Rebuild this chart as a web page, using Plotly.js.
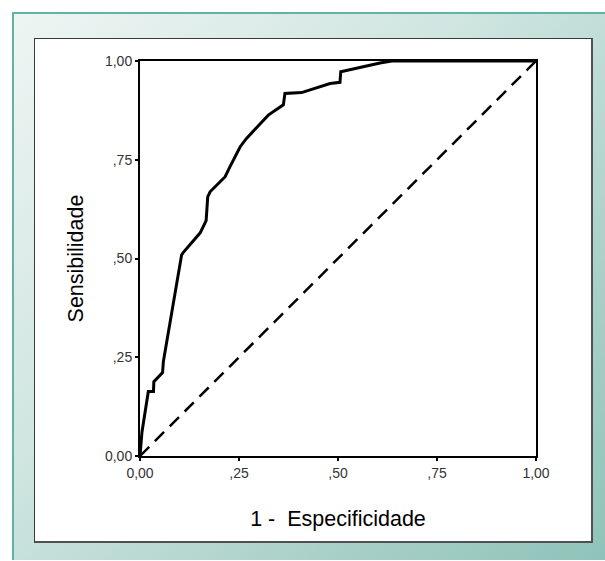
<!DOCTYPE html>
<html>
<head>
<meta charset="utf-8">
<script src="https://cdn.plot.ly/plotly-3.0.1.min.js"></script>
<style>
  html, body { margin: 0; padding: 0; background: #ffffff; }
  #wrap { position: relative; width: 605px; height: 561px; overflow: hidden; }
  #frame { position: absolute; left: 12px; top: 12px; width: 593px; height: 548px;
           box-sizing: border-box; border-left: 2px solid #62b3a4; border-top: 2px solid #62b3a4;
           background: linear-gradient(135deg, #eef5f3 0%, #cfe5e0 40%, #a9d0c8 75%, #8fc3b9 100%); }
  #inner { position: absolute; left: 34px; top: 38px; width: 559px; height: 505px;
           box-sizing: border-box; background: #ffffff; border: 1px solid #3a3a3a;
           border-bottom: 2px solid #505050; border-right: 2px solid #505050; }
  #chart { position: absolute; left: 0; top: 0; }
</style>
</head>
<body>
<div id="wrap">
  <div id="frame"></div>
  <div id="inner"></div>
  <div id="chart"></div>
</div>
<script>
// ROC curve values
const fpr = [0, 0.005, 0.021, 0.034, 0.035, 0.057, 0.059, 0.105, 0.109, 0.152, 0.167, 0.171, 0.177, 0.215, 0.227, 0.253, 0.269, 0.324, 0.362, 0.366, 0.408, 0.480, 0.505, 0.507, 0.606, 0.636, 1];
const tpr = [0, 0.061, 0.163, 0.163, 0.188, 0.211, 0.239, 0.509, 0.515, 0.565, 0.596, 0.656, 0.669, 0.707, 0.732, 0.783, 0.804, 0.863, 0.889, 0.918, 0.920, 0.943, 0.946, 0.973, 0.995, 1.0, 1];
// Reference (chance) line
const refX = [0, 1];
const refY = [0, 1];
// Ticks
const tickVals = [0, 0.25, 0.5, 0.75, 1];
const tickText = ['0,00', ',25', ',50', ',75', '1,00'];

const tickFont = { family: 'Liberation Sans, Arial, sans-serif', size: 14, color: '#333333' };
const titleFont = { family: 'Liberation Sans, Arial, sans-serif', size: 21.5, color: '#000000' };

const traces = [
  { x: refX, y: refY, mode: 'lines', type: 'scatter', cliponaxis: false, hoverinfo: 'skip',
    line: { color: '#000000', width: 2.5, dash: '13px,8px' } },
  { x: fpr, y: tpr, mode: 'lines', type: 'scatter', cliponaxis: false, hoverinfo: 'skip',
    line: { color: '#000000', width: 3 } }
];

const axisCommon = {
  range: [0, 1], tickvals: tickVals, ticktext: tickText, showgrid: false, zeroline: false,
  showline: true, mirror: true, linecolor: '#000000', linewidth: 2,
  ticks: 'outside', ticklen: 3, tickwidth: 2, tickcolor: '#000000', tickfont: tickFont, fixedrange: true
};

const layout = {
  width: 605, height: 561,
  margin: { l: 140, r: 69, t: 61, b: 105 },
  paper_bgcolor: 'rgba(0,0,0,0)', plot_bgcolor: '#ffffff',
  showlegend: false,
  xaxis: Object.assign({}, axisCommon, {
    title: { text: '1 -&nbsp; Especificidade', font: titleFont, standoff: 31 }
  }),
  yaxis: Object.assign({}, axisCommon, {
    title: { text: 'Sensibilidade', font: titleFont, standoff: 15 }
  })
};

Plotly.newPlot('chart', traces, layout, { displayModeBar: false, staticPlot: true });
</script>
</body>
</html>
